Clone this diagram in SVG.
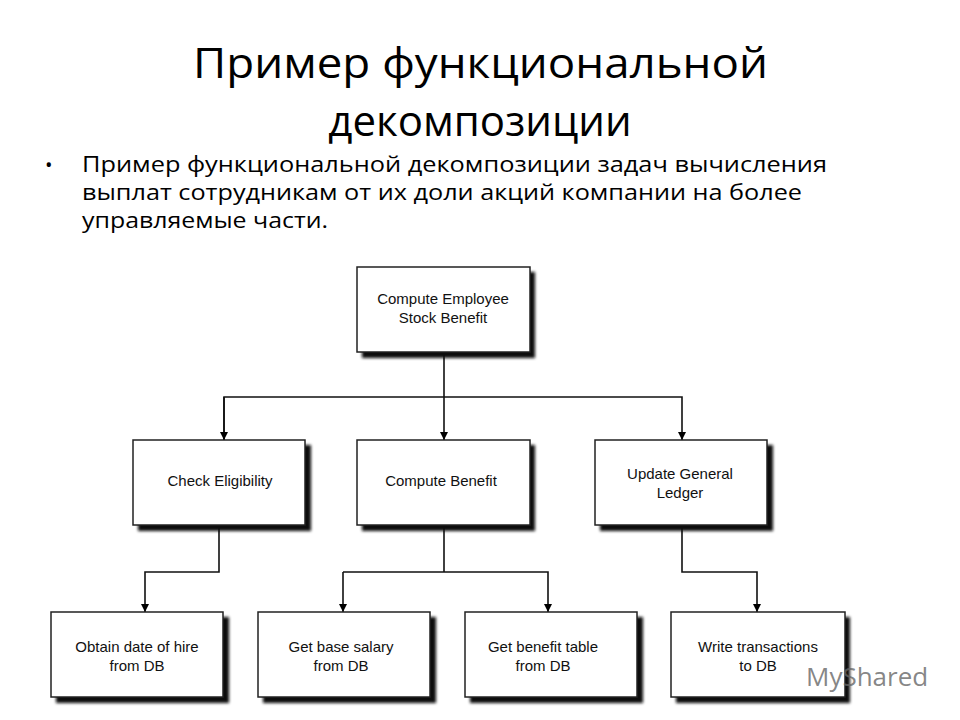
<svg xmlns="http://www.w3.org/2000/svg" width="960" height="720" viewBox="0 0 960 720">
<defs>
<filter id="sh" x="-10%" y="-10%" width="130%" height="130%"><feGaussianBlur stdDeviation="1.5"/></filter>
<marker id="ar" viewBox="0 0 10 10" refX="10" refY="5" markerWidth="8" markerHeight="8" markerUnits="userSpaceOnUse" orient="auto"><path d="M0,0 L10,5 L0,10 z" fill="#000"/></marker>
</defs>
<style>
.s{fill:#111;filter:url(#sh)}
.b{fill:#fff;stroke:#222;stroke-width:1.5}
.t{font-family:"Liberation Sans",Arial,sans-serif;font-size:15px;fill:#111;text-anchor:middle}
.c{fill:none;stroke:#111;stroke-width:1.6}
.h{font-family:"Open Sans","Noto Sans",sans-serif;fill:#000}
</style>
<rect width="960" height="720" fill="#fff"/>
<text class="h" x="193" y="78" font-size="42" textLength="575" lengthAdjust="spacingAndGlyphs">Пример функциональной</text>
<text class="h" x="480" y="136" font-size="42" text-anchor="middle">декомпозиции</text>
<text class="h" x="45" y="172" font-size="20">•</text>
<text class="h" x="82" y="172" font-size="21" textLength="745" lengthAdjust="spacingAndGlyphs">Пример функциональной декомпозиции задач вычисления</text>
<text class="h" x="82" y="200" font-size="21" textLength="720" lengthAdjust="spacingAndGlyphs">выплат сотрудникам от их доли акций компании на более</text>
<text class="h" x="82" y="228" font-size="21" textLength="246" lengthAdjust="spacingAndGlyphs">управляемые части.</text>
<g id="connectors">
<path class="c" d="M444,352 V397"/>
<path class="c" d="M224,440 V397 H682 V440" marker-end="url(#ar)"/>
<path class="c" d="M224,397 V440" marker-end="url(#ar)"/>
<path class="c" d="M444,397 V440" marker-end="url(#ar)"/>
<path class="c" d="M219,525 V572 H145 V612" marker-end="url(#ar)"/>
<path class="c" d="M444,525 V572"/>
<path class="c" d="M343,572 H548 V612" marker-end="url(#ar)"/>
<path class="c" d="M343,572 V612" marker-end="url(#ar)"/>
<path class="c" d="M682,525 V572 H757 V612" marker-end="url(#ar)"/>
</g>
<g id="n1"><rect class="s" x="362" y="272" width="173" height="86"/><rect class="b" x="357" y="267" width="173" height="85"/><text class="t" x="443" y="304">Compute Employee</text><text class="t" x="443" y="323">Stock Benefit</text></g>
<g id="n2"><rect class="s" x="138" y="445" width="173" height="86"/><rect class="b" x="133" y="440" width="172" height="85"/><text class="t" x="220" y="486">Check Eligibility</text></g>
<g id="n3"><rect class="s" x="362" y="445" width="173" height="86"/><rect class="b" x="357" y="440" width="173" height="85"/><text class="t" x="441" y="486">Compute Benefit</text></g>
<g id="n4"><rect class="s" x="600" y="445" width="173" height="86"/><rect class="b" x="595" y="440" width="172" height="85"/><text class="t" x="680" y="479">Update General</text><text class="t" x="680" y="498">Ledger</text></g>
<g id="n5"><rect class="s" x="56" y="617" width="173" height="86"/><rect class="b" x="51" y="612" width="172" height="85"/><text class="t" x="137" y="652">Obtain date of hire</text><text class="t" x="137" y="671">from DB</text></g>
<g id="n6"><rect class="s" x="263" y="617" width="173" height="86"/><rect class="b" x="258" y="612" width="172" height="85"/><text class="t" x="341" y="652">Get base salary</text><text class="t" x="341" y="671">from DB</text></g>
<g id="n7"><rect class="s" x="470" y="617" width="173" height="86"/><rect class="b" x="465" y="612" width="172" height="85"/><text class="t" x="543" y="652">Get benefit table</text><text class="t" x="543" y="671">from DB</text></g>
<g id="n8"><rect class="s" x="676" y="617" width="174" height="86"/><rect class="b" x="671" y="612" width="174" height="85"/><text class="t" x="758" y="652">Write transactions</text><text class="t" x="758" y="671">to DB</text></g>
<text x="806" y="686" font-family="'Open Sans',sans-serif" font-size="26" fill="#666" fill-opacity="0.8">MyShared</text>
</svg>
